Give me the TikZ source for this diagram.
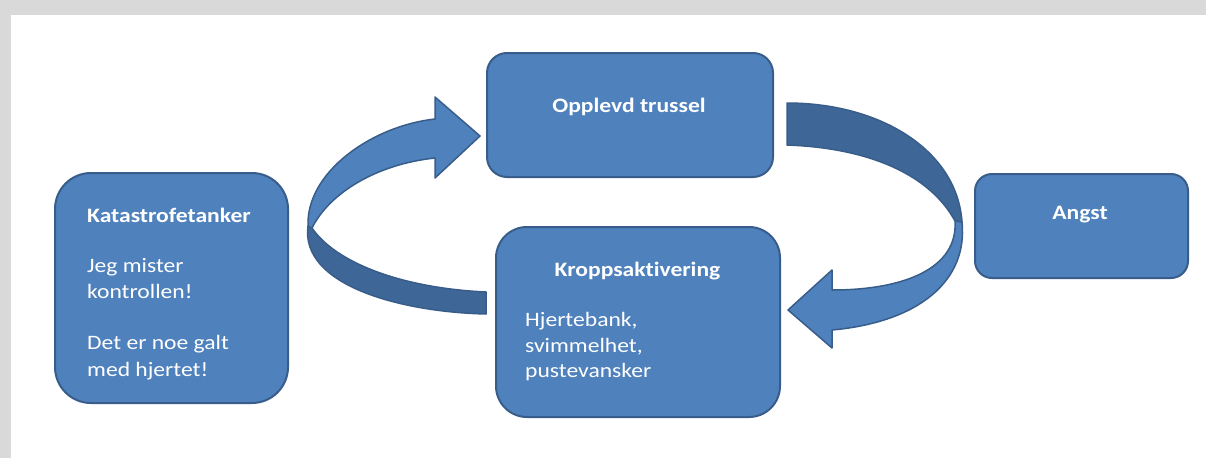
\documentclass[tikz,border=0pt]{standalone}
\usepackage{fontspec}
\setmainfont{Carlito}[FakeStretch=1.15, Ligatures=NoCommon]
\definecolor{boxfill}{HTML}{4F81BD}
\definecolor{boxline}{HTML}{385D8A}
\definecolor{darkband}{HTML}{3E6797}
\definecolor{bggray}{HTML}{D9D9D9}
\tikzset{
  box/.style={draw=boxline, line width=2pt, fill=boxfill, inner sep=0pt},
  ttl/.style={text=white, inner sep=0pt, font=\fontsize{20.5}{25}\selectfont\bfseries},
  bodytxt/.style={text=white, inner sep=0pt, font=\fontsize{20.5}{25}\selectfont},
  lightband/.style={fill=boxfill, draw=boxline, line width=1.5pt, line join=round},
  darkpart/.style={fill=darkband, draw=boxline, line width=1.5pt, line join=round}
}
\begin{document}
\begin{tikzpicture}[x=1pt,y=-1pt]
\useasboundingbox (0,0) rectangle (1206,458);
\fill[bggray] (0,0) rectangle (1206,458);
\fill[white] (11,15) rectangle (1206,458);

% boxes
\node[box, minimum width=286pt, minimum height=124pt, rounded corners=20pt] (trussel) at (630,115) {};
\node[box, minimum width=213pt, minimum height=104pt, rounded corners=17pt] (angst) at (1081.5,226) {};
\node[box, minimum width=284pt, minimum height=190pt, rounded corners=31pt] (kropp) at (638,322) {};
\node[box, minimum width=233pt, minimum height=230pt, rounded corners=36pt] (kata) at (171.5,288) {};

% texts
\node[ttl, anchor=base] (t1) at (629,112) {Opplevd trussel};
\node[ttl, anchor=base] (t2) at (1080,219) {Angst};
\node[ttl, anchor=base] (t3) at (637.5,276) {Kroppsaktivering};
\node[bodytxt, anchor=base west] (b31) at (525,326) {Hjertebank,};
\node[bodytxt, anchor=base west] (b32) at (525,352) {svimmelhet,};
\node[bodytxt, anchor=base west] (b33) at (525,377) {pustevansker};
\node[ttl, anchor=base west] (t4) at (87,222) {Katastrofetanker};
\node[bodytxt, anchor=base west] (b41) at (87,272) {Jeg mister};
\node[bodytxt, anchor=base west] (b42) at (87,298) {kontrollen!};
\node[bodytxt, anchor=base west] (b43) at (87,349) {Det er noe galt};
\node[bodytxt, anchor=base west] (b44) at (87,376) {med hjertet!};

% left circular arrow (Kroppsaktivering -> Opplevd trussel)
\draw[darkpart] (308,226) .. controls (300,285) and (400,312) .. (486,314)
  -- (486,292) .. controls (400,288) and (335,262) .. (312,228) -- cycle;
\draw[lightband] (308,226) .. controls (306,172) and (372,126) .. (435,119)
  -- (435,97) -- (480,136) -- (435,178) -- (435,158)
  .. controls (378,164) and (330,192) .. (312,228) -- cycle;

% right circular arrow (Opplevd trussel -> Kroppsaktivering)
\draw[darkpart] (787,103) .. controls (880,103) and (957,150) .. (962,222)
  -- (955,221) .. controls (930,175) and (870,148) .. (787,145) -- cycle;
\draw[lightband] (955,221) .. controls (958,268) and (905,290) .. (832,290)
  -- (832,270) -- (788,310) -- (832,348) -- (832,330)
  .. controls (920,322) and (968,280) .. (962,222) -- cycle;
\end{tikzpicture}
\end{document}
